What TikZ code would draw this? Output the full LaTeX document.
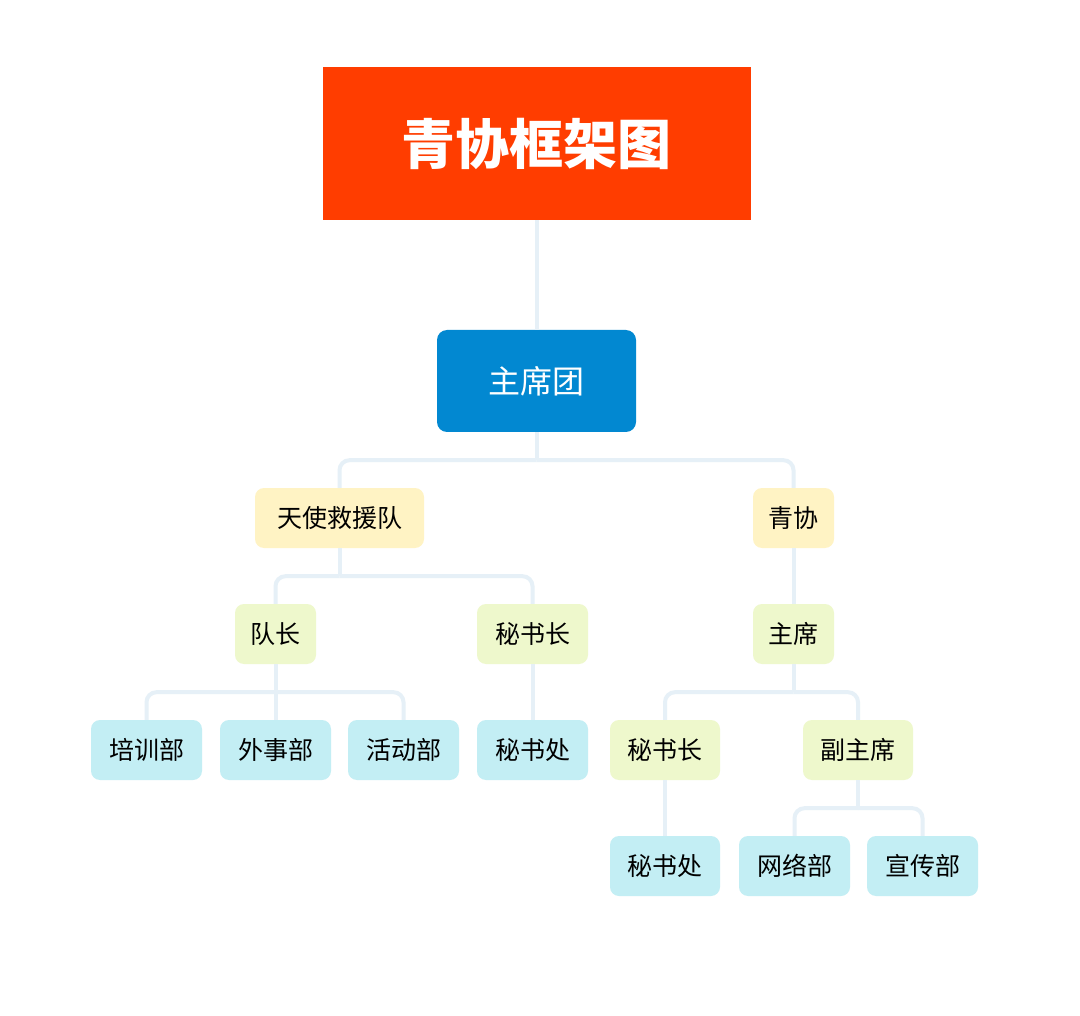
\documentclass[tikz,border=0pt]{standalone}
\usepackage{fontspec}
\newfontfamily\cjk{Noto Sans CJK SC}
\definecolor{titlered}{HTML}{FF3D00}
\definecolor{headblue}{HTML}{0288D1}
\definecolor{boxyellow}{HTML}{FFF3C4}
\definecolor{boxgreen}{HTML}{EEF8CC}
\definecolor{boxcyan}{HTML}{C3EEF4}
\definecolor{linkgray}{HTML}{E6F0F7}
\tikzset{
    unit/.style={rectangle,rounded corners=9pt,inner sep=0pt,minimum height=60pt,font=\cjk\fontsize{25}{25}\selectfont},
    yellowbox/.style={unit,fill=boxyellow},
    greenbox/.style={unit,fill=boxgreen},
    cyanbox/.style={unit,fill=boxcyan},
    link/.style={draw=linkgray,line width=4pt,rounded corners=10pt}
}
\begin{document}
\begin{tikzpicture}[x=1pt,y=-1pt]
        \useasboundingbox[fill=white] (0,0) rectangle (1080,1016);
        % title and head
        \node[fill=titlered,minimum width=428pt,minimum height=153pt,inner sep=0pt,
              text=white,font=\cjk\bfseries\fontsize{54}{54}\selectfont] (title) at (536.5,143.5) {青协框架图};
        \node[fill=headblue,rounded corners=10pt,minimum width=199pt,minimum height=102pt,inner sep=0pt,
              text=white,font=\cjk\fontsize{32}{32}\selectfont] (head) at (536.5,381) {主席团};
        % second row
        \node[yellowbox,minimum width=169pt] (angel) at (339.5,518) {天使救援队};
        \node[yellowbox,minimum width=81pt] (qx) at (793.5,518) {青协};
        % third row
        \node[greenbox,minimum width=81pt] (captain) at (275.5,634) {队长};
        \node[greenbox,minimum width=111pt] (secA) at (532.5,634) {秘书长};
        \node[greenbox,minimum width=81pt] (chair) at (793.5,634) {主席};
        % fourth row
        \node[cyanbox,minimum width=111pt] (train) at (146.5,750) {培训部};
        \node[cyanbox,minimum width=111pt] (foreign) at (275.5,750) {外事部};
        \node[cyanbox,minimum width=111pt] (event) at (403.5,750) {活动部};
        \node[cyanbox,minimum width=111pt] (officeA) at (532.5,750) {秘书处};
        \node[greenbox,minimum width=110pt] (secB) at (665,750) {秘书长};
        \node[greenbox,minimum width=110pt] (vice) at (858,750) {副主席};
        % fifth row
        \node[cyanbox,minimum width=110pt] (officeB) at (665,866) {秘书处};
        \node[cyanbox,minimum width=111pt] (net) at (794.5,866) {网络部};
        \node[cyanbox,minimum width=111pt] (publicity) at (922.5,866) {宣传部};
        % links
        \draw[link] (title.south) -- (head.north);
        \foreach \p/\c in {head/angel,head/qx,angel/captain,angel/secA,qx/chair,
                           captain/train,captain/foreign,captain/event,secA/officeA,
                           chair/secB,chair/vice,secB/officeB,vice/net,vice/publicity}{
            \draw[link] (\p.south) -- ++(0,28) coordinate (bar);
            \draw[link] (bar) -| (\c.north);
        }
\end{tikzpicture}
\end{document}
